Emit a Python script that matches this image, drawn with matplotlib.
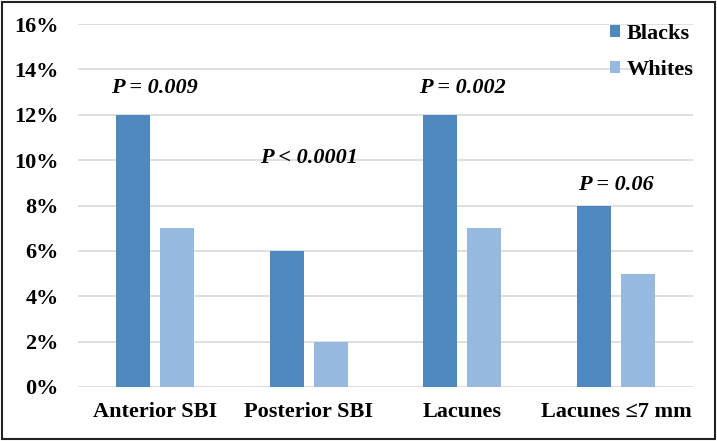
import matplotlib
matplotlib.use('Agg')
import matplotlib.pyplot as plt
from matplotlib.patches import Rectangle
import numpy as np

categories = ["Anterior SBI", "Posterior SBI", "Lacunes", "Lacunes \u22647 mm"]
blacks = [12, 6, 12, 8]
whites = [7, 2, 7, 5]
p_labels = ["P = 0.009", "P < 0.0001", "P = 0.002", "P = 0.06"]
p_heights = [13.2, 10.1, 13.2, 8.9]

dark = "#4F87BF"
light = "#97B9E0"

plt.rcParams['font.family'] = ['Liberation Serif', 'DejaVu Serif']

fig = plt.figure(figsize=(7.17, 4.41), dpi=100)
ax = fig.add_axes([78/717, 54/441, 615/717, 363/441])

x = np.arange(len(categories))
w = 0.221
gap = 0.065
ax.bar(x - (w + gap)/2, blacks, w, color=dark, label="Blacks", zorder=2)
ax.bar(x + (w + gap)/2, whites, w, color=light, label="Whites", zorder=2)

for xi, txt, h in zip(x, p_labels, p_heights):
    ax.text(xi, h, txt, ha='center', va='center', fontsize=16,
            fontweight='bold', fontstyle='italic')

ax.set_xlim(-0.5, len(categories) - 0.5)
ax.set_ylim(0, 16)
ax.set_yticks(np.arange(0, 17, 2))
ax.set_yticklabels([f"{v}%" for v in range(0, 17, 2)], fontsize=16, fontweight='bold')
ax.set_xticks(x)
ax.set_xticklabels(categories, fontsize=16, fontweight='bold')
ax.tick_params(axis='y', length=0, pad=14)
ax.tick_params(axis='x', length=0, pad=11)
ax.grid(axis='y', color='#D9D9D9', linewidth=1.2, zorder=0)
for s in ax.spines.values():
    s.set_visible(False)

leg = ax.legend(loc='upper right', bbox_to_anchor=(1.016, 1.024), frameon=False,
                prop={'size': 16, 'weight': 'bold'}, handlelength=0.45,
                handleheight=0.45, handletextpad=0.3, labelspacing=0.71,
                borderaxespad=0.0)

fig.patches.append(Rectangle((0.003, 0.005), 0.994, 0.99, transform=fig.transFigure,
                             fill=False, edgecolor='#222222', linewidth=1.5))

fig.savefig("out.png", dpi=100)
